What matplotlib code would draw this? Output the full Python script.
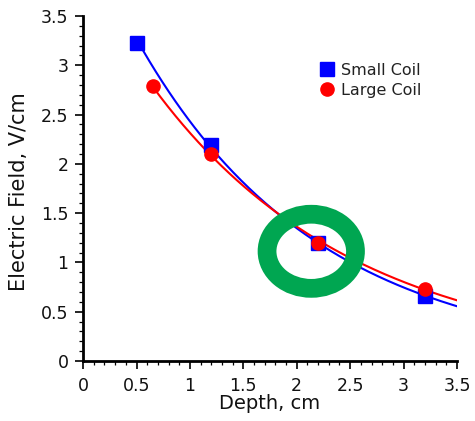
import numpy as np
import matplotlib
matplotlib.use("Agg")
import matplotlib.pyplot as plt
from matplotlib.patches import Ellipse
from matplotlib.ticker import MultipleLocator

plt.rcParams['font.family'] = ['DejaVu Sans']

small_depth = [0.5, 1.2, 2.2, 3.2]
small_field = [3.23, 2.19, 1.2, 0.66]
large_depth = [0.65, 1.2, 2.2, 3.2]
large_field = [2.79, 2.10, 1.2, 0.73]
x_ticks = [0, 0.5, 1, 1.5, 2, 2.5, 3, 3.5]
y_ticks = [0, 0.5, 1, 1.5, 2, 2.5, 3, 3.5]

fig = plt.figure(figsize=(4.75, 4.21), dpi=100)
ax = fig.add_axes([0.175, 0.1425, 0.787, 0.8195])

def fit_curve(xs, ys, x_end):
    b, a = np.polyfit(xs, np.log(ys), 1)
    xx = np.linspace(xs[0], x_end, 200)
    return xx, np.exp(a + b * xx)

xb, yb = fit_curve(small_depth, small_field, 3.5)
xr, yr = fit_curve(large_depth, large_field, 3.5)
ax.plot(xb, yb, color='#0000ff', lw=1.5, zorder=2)
ax.plot(xr, yr, color='#ff0000', lw=1.5, zorder=2)
ax.plot(small_depth, small_field, 's', color='#0000ff', ms=9.5, label='Small Coil', zorder=3)
ax.plot(large_depth, large_field, 'o', color='#ff0000', ms=9.5, label='Large Coil', zorder=4)

ring = Ellipse((2.136, 1.113), 0.828, 0.752, fill=False, edgecolor='#00a651', lw=13.5, zorder=5)
ax.add_patch(ring)

ax.set_xlim(0, 3.5)
ax.set_ylim(0, 3.5)
ax.set_xticks(x_ticks)
ax.set_yticks(y_ticks)
ax.set_xticklabels([f"{v:g}" for v in x_ticks])
ax.set_yticklabels([f"{v:g}" for v in y_ticks])
ax.xaxis.set_minor_locator(MultipleLocator(0.1))
ax.yaxis.set_minor_locator(MultipleLocator(0.1))
ax.tick_params(which='major', direction='out', length=5.5, width=1.2, labelsize=12.5,
               colors='black', labelcolor='#111111')
ax.tick_params(axis='x', which='major', pad=6)
ax.tick_params(axis='y', which='major', pad=5)
ax.tick_params(which='minor', direction='out', length=3, width=0.9)
for s in ['top', 'right']:
    ax.spines[s].set_visible(False)
for s in ['left', 'bottom']:
    ax.spines[s].set_linewidth(2)
ax.set_xlabel('Depth, cm', fontsize=14, color='#111111')
ax.set_ylabel('Electric Field, V/cm', fontsize=15, color='#111111')
ax.xaxis.set_label_coords(0.5, -0.095)
ax.yaxis.set_label_coords(-0.145, 0.49)

ax.legend(loc='upper left', bbox_to_anchor=(0.631, 0.864), frameon=False, fontsize=11.5,
          handlelength=1.0, handletextpad=0.4, labelspacing=0.3, borderaxespad=0,
          borderpad=0, numpoints=1, labelcolor='#222222')

fig.savefig('out.png', dpi=100)
